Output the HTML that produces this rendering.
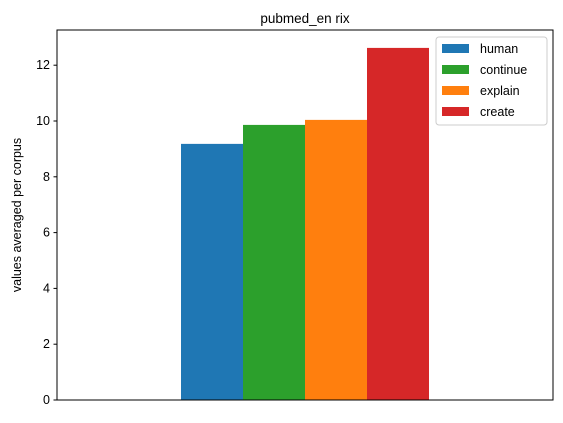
<!DOCTYPE html>
<html><head><meta charset="utf-8"><style>
body{margin:0;background:#fff;}
svg{font-family:"Liberation Sans","DejaVu Sans",sans-serif;}
</style></head><body>
<svg id="c" width="563" height="418">
<rect x="0" y="0" width="563" height="418" fill="#fff"/>
</svg>
<script>
const categories=["human","continue","explain","create"];
const values=[9.18,9.86,10.04,12.62];
const colors=["#1f77b4","#2ca02c","#ff7f0e","#d62728"];
const yTicks=[0,2,4,6,8,10,12];
const NS="http://www.w3.org/2000/svg";
const svg=document.getElementById('c');
const L=57,R=553,T=30,B=400,k=27.9;
const y=v=>B-v*k;
const barW=62,x0=181;
const x=i=>x0+i*barW;
function mk(t,a,p){const e=document.createElementNS(NS,t);for(const n in a)e.setAttribute(n,a[n]);(p||svg).appendChild(e);return e;}
values.forEach((v,i)=>{
 const r=mk('rect',{x:x(i),y:y(v),width:barW,height:B-y(v),fill:colors[i]});
 
 
});
const ax=mk('rect',{x:L,y:T,width:R-L,height:B-T,fill:'none',stroke:'#000','stroke-width':1});


yTicks.forEach(t=>{
 mk('line',{x1:L-3.5,x2:L,y1:y(t),y2:y(t),stroke:'#000'});
 const tx=mk('text',{x:L-7,y:y(t)+4,'text-anchor':'end','font-size':12.5,fill:'#000'});
 tx.textContent=t;
 
 
});
const ti=mk('text',{x:(L+R)/2,y:23,'text-anchor':'middle','font-size':13.5});
ti.textContent='pubmed_en rix';


const yl=mk('text',{x:21,y:(T+B)/2,'text-anchor':'middle','font-size':12.5,transform:`rotate(-90 21 ${(T+B)/2})`});
yl.textContent='values averaged per corpus';


const lg=mk('g',{});


mk('rect',{x:436,y:37,width:111,height:88,rx:3,fill:'#fff','fill-opacity':0.8,stroke:'#ccc'},lg);
categories.forEach((c,i)=>{
 const yy=48+i*21;
 mk('rect',{x:442,y:yy-4,width:27,height:9,fill:colors[i]},lg);
 const t=mk('text',{x:480,y:yy+5,'font-size':12.5},lg);
 t.textContent=c;
 
 
});
</script>
</body></html>
